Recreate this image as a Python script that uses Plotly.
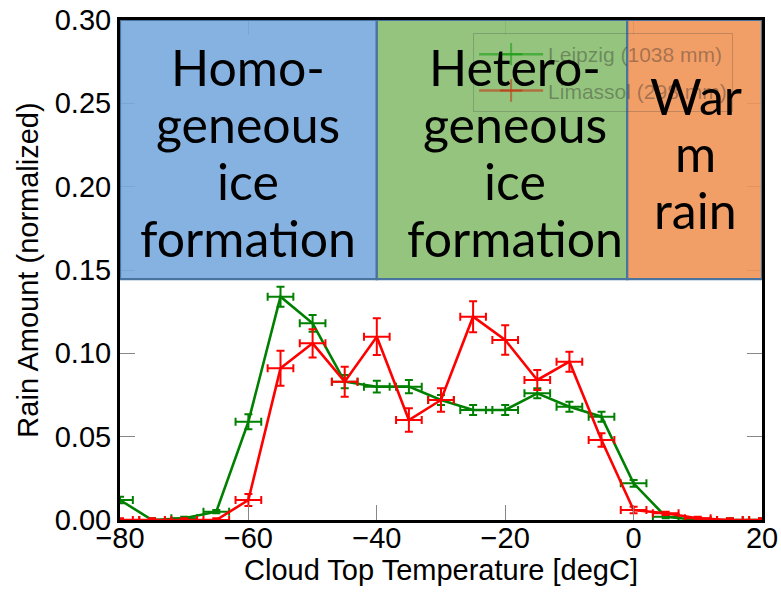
import plotly.graph_objects as go

# Cloud top temperature bins (degC) and bin half-width
temps = [-80, -75, -70, -65, -60, -55, -50, -45, -40, -35, -30,
         -25, -20, -15, -10, -5, 0, 5, 10, 15, 20]
bin_half = [2] * len(temps)

# Normalized rain amount per bin
leipzig = [0.012, 0.0, 0.001, 0.005, 0.059, 0.134, 0.118, 0.083, 0.080, 0.080, 0.072,
           0.066, 0.066, 0.076, 0.068, 0.062, 0.022, 0.002, 0.0, 0.0, 0.0]
leipzig_err = [0.002, 0.001, 0.001, 0.001, 0.0045, 0.006, 0.005, 0.004, 0.0035, 0.004, 0.003,
               0.003, 0.003, 0.003, 0.003, 0.003, 0.002, 0.001, 0.001, 0.001, 0.001]

limassol = [0.0, 0.0, 0.0, 0.0, 0.012, 0.091, 0.106, 0.083, 0.110, 0.060, 0.072,
            0.122, 0.108, 0.084, 0.095, 0.048, 0.006, 0.004, 0.001, 0.0, 0.0]
limassol_err = [0.001, 0.001, 0.001, 0.001, 0.0036, 0.0105, 0.0085, 0.009, 0.011, 0.007, 0.007,
                0.0093, 0.0088, 0.006, 0.006, 0.004, 0.002, 0.001, 0.001, 0.001, 0.001]

series_names = ["Leipzig (1038 mm)", "Limassol (298 mm)"]

# Regime boxes: (x start, x end, label lines, text centre x)
regimes = [
    (-80, -40, ["Homo-", "geneous", "ice", "formation"], -60),
    (-40, -1, ["Hetero-", "geneous", "ice", "formation"], -18.5),
    (-1, 20, ["War", "m", "rain"], 9.7),
]
regime_fill = ["rgba(120,170,222,0.90)", "rgba(138,190,112,0.90)", "rgba(240,148,86,0.90)"]
regime_bottom, regime_top = 0.1445, 0.30

x_ticks = [-80, -60, -40, -20, 0, 20]
y_ticks = [0.0, 0.05, 0.10, 0.15, 0.20, 0.25, 0.30]

fig = go.Figure()

for name, vals, errs, col in [
    (series_names[0], leipzig, leipzig_err, "#008000"),
    (series_names[1], limassol, limassol_err, "#ff0000"),
]:
    fig.add_trace(go.Scatter(
        x=temps, y=vals, mode="lines", name=name, showlegend=False,
        line=dict(color=col, width=2.6),
        error_x=dict(type="data", array=bin_half, color=col, thickness=2, width=4),
        error_y=dict(type="data", array=errs, color=col, thickness=2, width=4),
    ))

# Legend entries (seen faintly beneath the regime boxes)
for i, (name, col) in enumerate([(series_names[0], "rgba(0,150,0,0.5)"),
                                 (series_names[1], "rgba(200,30,0,0.5)")]):
    fig.add_trace(go.Scatter(
        x=[None], y=[None], mode="lines+markers", name=name, legendgroup=f"g{i}",
        line=dict(color=col, width=2.5),
        marker=dict(symbol="cross-thin", size=16, line=dict(color=col, width=2)),
    ))

shapes = []
for (x0, x1, _, _), fc in zip(regimes, regime_fill):
    shapes.append(dict(type="rect", xref="x", yref="y", x0=x0, x1=x1,
                       y0=regime_bottom, y1=regime_top, layer="above",
                       fillcolor=fc, line=dict(color="#4a74a0", width=2.2)))

annotations = []
line_gap = 57
for x0, x1, lines, xc in regimes:
    n = len(lines)
    for i, txt in enumerate(lines):
        annotations.append(dict(
            x=xc, y=0.2205, xref="x", yref="y", text=txt, showarrow=False,
            xanchor="center", yanchor="middle",
            yshift=-(i - (n - 1) / 2) * line_gap,
            font=dict(family="Lato", size=50, color="black"),
        ))

axis_font = dict(family="Liberation Sans, Arial, sans-serif", size=29, color="black")

fig.update_layout(
    width=781, height=593,
    margin=dict(l=120, r=19, t=20, b=73),
    paper_bgcolor="white", plot_bgcolor="white",
    shapes=shapes, annotations=annotations,
    showlegend=True,
    legend=dict(x=0.55, y=0.974, xanchor="left", yanchor="top",
                bgcolor="rgba(0,0,0,0)", bordercolor="rgba(60,60,60,0.25)", borderwidth=1,
                font=dict(family="Liberation Sans, Arial, sans-serif", size=21,
                          color="rgba(40,40,40,0.38)"),
                itemwidth=64, tracegroupgap=6),
    xaxis=dict(range=[-80, 20], tickvals=x_ticks, ticks="inside", ticklen=15,
               tickcolor="#888888", tickwidth=1, showline=True, linecolor="black",
               linewidth=3, mirror="ticks", showgrid=False, zeroline=False,
               tickfont=axis_font, automargin=False, ticklabelstandoff=-10,
               title=dict(text="Cloud Top Temperature [degC]", font=axis_font, standoff=7)),
    yaxis=dict(range=[0, 0.30], tickvals=y_ticks, tickformat=".2f", ticks="inside",
               ticklen=15, tickcolor="#888888", tickwidth=1, showline=True,
               linecolor="black", linewidth=3, mirror="ticks", showgrid=False,
               zeroline=False, tickfont=axis_font, automargin=False,
               title=dict(text="Rain Amount (normalized)", font=axis_font, standoff=8)),
)

fig.write_html("out.html")
